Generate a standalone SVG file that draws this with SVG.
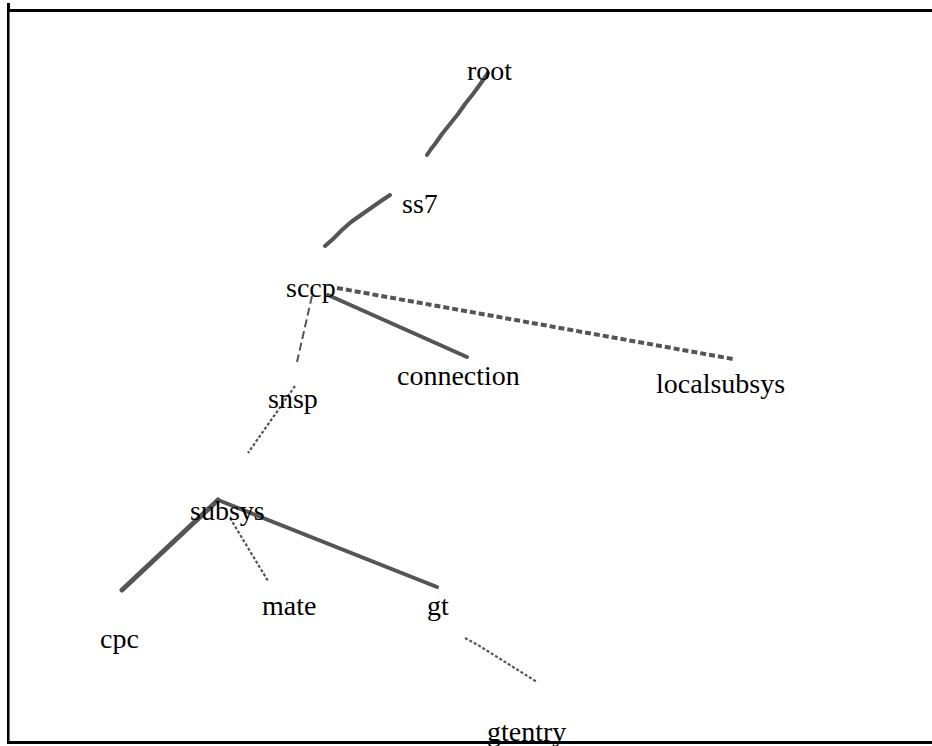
<svg xmlns="http://www.w3.org/2000/svg" width="932" height="746" viewBox="0 0 932 746">
  <style>
    .lbl { font-family: "Liberation Serif", "Times New Roman", serif; font-size: 28px; fill: #000; }
    .edge { fill: none; stroke: #555; stroke-linecap: round; stroke-linejoin: round; }
    .thick { stroke-width: 4; }
    .dash { stroke-width: 4; stroke-dasharray: 6 3; stroke-linecap: butt; }
    .longdash { stroke-width: 2; stroke-dasharray: 8 4; stroke-linecap: butt; }
    .dot { stroke-width: 2.2; stroke-dasharray: 3 2; stroke-linecap: butt; }
    .frame { stroke: #000; fill: none; }
  </style>

  <rect width="932" height="746" fill="#fff"/>

  <!-- tree links -->
  <g id="connectors">
    <polyline id="root-ss7" class="edge thick" points="488,73 481,83 473,94 465,104 458,114 450,124 442,134 435,144 431,149 427,155"/>
    <polyline id="ss7-sccp" class="edge thick" points="390,195 381,201 371,208 361,215 351,222 342,230 333,239 325,246"/>
    <polyline id="sccp-connection" class="edge thick" points="328,295 467,357"/>
    <polyline id="sccp-localsubsys" class="edge dash" points="337,288 733,359"/>
    <polyline id="sccp-snsp" class="edge longdash" points="312,296 297,362"/>
    <polyline id="snsp-subsys" class="edge dot" points="295,386 248,453"/>
    <polyline id="subsys-cpc" class="edge thick" points="218,500 122,590" style="stroke-width:5"/>
    <polyline id="subsys-mate" class="edge dot" points="230,518 268,581"/>
    <polyline id="subsys-gt" class="edge thick" points="218,500 437,587"/>
    <polyline id="gt-gtentry" class="edge dot" points="465,638 478,645 537,682"/>
  </g>

  <!-- nodes -->
  <g id="node-root"><text class="lbl" x="467" y="80">root</text></g>
  <g id="node-ss7"><text class="lbl" x="402" y="213">ss7</text></g>
  <g id="node-sccp"><text class="lbl" x="286" y="297">sccp</text></g>
  <g id="node-connection"><text class="lbl" x="397" y="385">connection</text></g>
  <g id="node-localsubsys"><text class="lbl" x="656" y="393">localsubsys</text></g>
  <g id="node-snsp"><text class="lbl" x="268" y="408">snsp</text></g>
  <g id="node-subsys"><text class="lbl" x="190" y="520">subsys</text></g>
  <g id="node-mate"><text class="lbl" x="262" y="615">mate</text></g>
  <g id="node-gt"><text class="lbl" x="427" y="615">gt</text></g>
  <g id="node-cpc"><text class="lbl" x="100" y="648">cpc</text></g>
  <g id="node-gtentry"><text class="lbl" x="487" y="741">gtentry</text></g>

  <!-- page frame, open on the right, drawn over the labels -->
  <g id="frame">
    <line class="frame" x1="8.5" y1="3" x2="8.5" y2="744" stroke-width="3"/>
    <line x1="9.5" y1="12" x2="9.5" y2="741" stroke="#777" stroke-width="1"/>
    <line class="frame" x1="7" y1="10.5" x2="932" y2="10.5" stroke-width="3"/>
    <line class="frame" x1="7" y1="742.5" x2="932" y2="742.5" stroke-width="3"/>
  </g>
</svg>
